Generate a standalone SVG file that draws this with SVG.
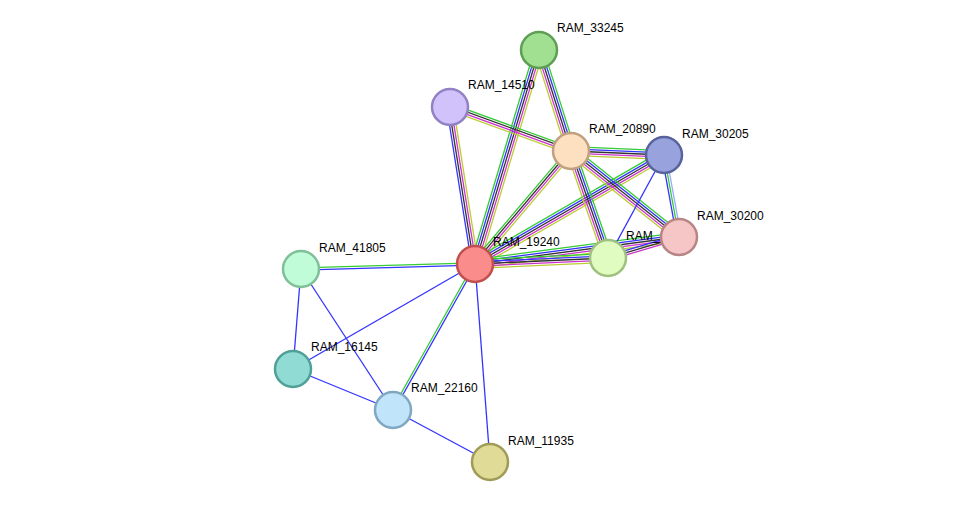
<svg xmlns="http://www.w3.org/2000/svg" width="976" height="508" viewBox="0 0 976 508">
<defs>
<style>
line{stroke-width:1.3;fill:none}
.g{stroke:#33cc33}.b{stroke:#3333ff}.k{stroke:#333333}.m{stroke:#cc33cc}.y{stroke:#bbcc33}.lb{stroke:#99aaff}
circle{stroke-width:2.5}
text{font-family:"Liberation Sans",Arial,sans-serif;font-size:12px;fill:#000}
</style>
<g id="e5"><line class="g" x1="0" y1="-4.4" x2="1" y2="-4.4"/></g>
</defs>
<rect width="976" height="508" fill="#fff"/>
<g id="connectors">
<g transform="translate(475,264) rotate(-73.35)"><line class="g" x1="0" y1="-4.4" x2="223.4" y2="-4.4"/><line class="b" x1="0" y1="-2.2" x2="223.4" y2="-2.2"/><line class="k" x1="0" y1="0" x2="223.4" y2="0"/><line class="m" x1="0" y1="2.2" x2="223.4" y2="2.2"/><line class="y" x1="0" y1="4.4" x2="223.4" y2="4.4"/></g>
<g transform="translate(475,264) rotate(-99.05)"><line class="b" x1="0" y1="-3.3" x2="159" y2="-3.3"/><line class="k" x1="0" y1="-1.1" x2="159" y2="-1.1"/><line class="m" x1="0" y1="1.1" x2="159" y2="1.1"/><line class="y" x1="0" y1="3.3" x2="159" y2="3.3"/></g>
<g transform="translate(475,264) rotate(-49.65)"><line class="g" x1="0" y1="-3.3" x2="148.3" y2="-3.3"/><line class="k" x1="0" y1="-1.1" x2="148.3" y2="-1.1"/><line class="m" x1="0" y1="1.1" x2="148.3" y2="1.1"/><line class="y" x1="0" y1="3.3" x2="148.3" y2="3.3"/></g>
<g transform="translate(475,264) rotate(-29.97)"><line class="g" x1="0" y1="-4.4" x2="218.2" y2="-4.4"/><line class="b" x1="0" y1="-2.2" x2="218.2" y2="-2.2"/><line class="k" x1="0" y1="0" x2="218.2" y2="0"/><line class="m" x1="0" y1="2.2" x2="218.2" y2="2.2"/><line class="y" x1="0" y1="4.4" x2="218.2" y2="4.4"/></g>
<g transform="translate(475,264) rotate(-7.54)"><line class="g" x1="0" y1="-4.4" x2="205.8" y2="-4.4"/><line class="b" x1="0" y1="-2.2" x2="205.8" y2="-2.2"/><line class="k" x1="0" y1="0" x2="205.8" y2="0"/><line class="m" x1="0" y1="2.2" x2="205.8" y2="2.2"/><line class="y" x1="0" y1="4.4" x2="205.8" y2="4.4"/></g>
<g transform="translate(475,264) rotate(-2.58)"><line class="g" x1="0" y1="-4.4" x2="133.1" y2="-4.4"/><line class="b" x1="0" y1="-2.2" x2="133.1" y2="-2.2"/><line class="k" x1="0" y1="0" x2="133.1" y2="0"/><line class="m" x1="0" y1="2.2" x2="133.1" y2="2.2"/><line class="y" x1="0" y1="4.4" x2="133.1" y2="4.4"/></g>
<g transform="translate(450,107) rotate(19.98)"><line class="g" x1="0" y1="-3.3" x2="128.8" y2="-3.3"/><line class="k" x1="0" y1="-1.1" x2="128.8" y2="-1.1"/><line class="m" x1="0" y1="1.1" x2="128.8" y2="1.1"/><line class="y" x1="0" y1="3.3" x2="128.8" y2="3.3"/></g>
<g transform="translate(539,50) rotate(72.42)"><line class="g" x1="0" y1="-4.4" x2="105.9" y2="-4.4"/><line class="b" x1="0" y1="-2.2" x2="105.9" y2="-2.2"/><line class="k" x1="0" y1="0" x2="105.9" y2="0"/><line class="m" x1="0" y1="2.2" x2="105.9" y2="2.2"/><line class="y" x1="0" y1="4.4" x2="105.9" y2="4.4"/></g>
<g transform="translate(571,151) rotate(2.46)"><line class="g" x1="0" y1="-4.4" x2="93.1" y2="-4.4"/><line class="b" x1="0" y1="-2.2" x2="93.1" y2="-2.2"/><line class="k" x1="0" y1="0" x2="93.1" y2="0"/><line class="m" x1="0" y1="2.2" x2="93.1" y2="2.2"/><line class="y" x1="0" y1="4.4" x2="93.1" y2="4.4"/></g>
<g transform="translate(571,151) rotate(38.53)"><line class="g" x1="0" y1="-4.4" x2="138.1" y2="-4.4"/><line class="b" x1="0" y1="-2.2" x2="138.1" y2="-2.2"/><line class="k" x1="0" y1="0" x2="138.1" y2="0"/><line class="m" x1="0" y1="2.2" x2="138.1" y2="2.2"/><line class="y" x1="0" y1="4.4" x2="138.1" y2="4.4"/></g>
<g transform="translate(571,151) rotate(70.92)"><line class="g" x1="0" y1="-4.4" x2="113.2" y2="-4.4"/><line class="b" x1="0" y1="-2.2" x2="113.2" y2="-2.2"/><line class="k" x1="0" y1="0" x2="113.2" y2="0"/><line class="m" x1="0" y1="2.2" x2="113.2" y2="2.2"/><line class="y" x1="0" y1="4.4" x2="113.2" y2="4.4"/></g>
<line class="b" x1="664" y1="155" x2="608" y2="258"/>
<g transform="translate(664,155) rotate(79.63)"><line class="lb" x1="0" y1="-2.2" x2="83.4" y2="-2.2"/><line class="g" x1="0" y1="0" x2="83.4" y2="0"/><line class="b" x1="0" y1="2.2" x2="83.4" y2="2.2"/></g>
<g transform="translate(608,258) rotate(-16.48)"><line class="b" x1="0" y1="-2.2" x2="74" y2="-2.2"/><line class="k" x1="0" y1="0" x2="74" y2="0"/><line class="m" x1="0" y1="2.2" x2="74" y2="2.2"/></g>
<g transform="translate(475,264) rotate(178.35)"><line class="b" x1="0" y1="-1.1" x2="174.1" y2="-1.1"/><line class="g" x1="0" y1="1.1" x2="174.1" y2="1.1"/></g>
<g transform="translate(475,264) rotate(119.32)"><line class="b" x1="0" y1="-1.1" x2="167.5" y2="-1.1"/><line class="g" x1="0" y1="1.1" x2="167.5" y2="1.1"/></g>
<line class="b" x1="475" y1="264" x2="293" y2="369"/>
<line class="b" x1="475" y1="264" x2="490" y2="462"/>
<line class="b" x1="301" y1="269" x2="293" y2="369"/>
<line class="b" x1="301" y1="269" x2="393" y2="410"/>
<line class="b" x1="293" y1="369" x2="393" y2="410"/>
<line class="b" x1="393" y1="410" x2="490" y2="462"/>
</g>
<g id="RAM_33245"><circle cx="539" cy="50" r="18" fill="#a0e090" stroke="#5f9f55"/><text x="557" y="32">RAM_33245</text></g>
<g id="RAM_14510"><circle cx="450" cy="107" r="18" fill="#d2c2fb" stroke="#9282c5"/><text x="468" y="89">RAM_14510</text></g>
<g id="RAM_20890"><circle cx="571" cy="151" r="18" fill="#fde0c0" stroke="#c0a080"/><text x="589" y="133">RAM_20890</text></g>
<g id="RAM_30205"><circle cx="664" cy="155" r="18" fill="#98a3dd" stroke="#58639d"/><text x="682" y="138">RAM_30205</text></g>
<g id="RAM_unnamed"><circle cx="608" cy="258" r="18" fill="#e0fcc0" stroke="#a0c080"/><text x="626" y="240">RAM_</text></g>
<g id="RAM_30200"><circle cx="679" cy="237" r="18" fill="#f6c6c6" stroke="#b88585"/><text x="697" y="220">RAM_30200</text></g>
<g id="RAM_19240"><circle cx="475" cy="264" r="18" fill="#fa8c8c" stroke="#c05050"/><text x="493" y="246">RAM_19240</text></g>
<g id="RAM_41805"><circle cx="301" cy="269" r="18" fill="#c0fcd8" stroke="#80c098"/><text x="319" y="252">RAM_41805</text></g>
<g id="RAM_16145"><circle cx="293" cy="369" r="18" fill="#90dcd4" stroke="#50a098"/><text x="311" y="351">RAM_16145</text></g>
<g id="RAM_22160"><circle cx="393" cy="410" r="18" fill="#c0e4fa" stroke="#80a8c0"/><text x="411" y="392">RAM_22160</text></g>
<g id="RAM_11935"><circle cx="490" cy="462" r="18" fill="#e0dc98" stroke="#a09c58"/><text x="508" y="445">RAM_11935</text></g>
</svg>
